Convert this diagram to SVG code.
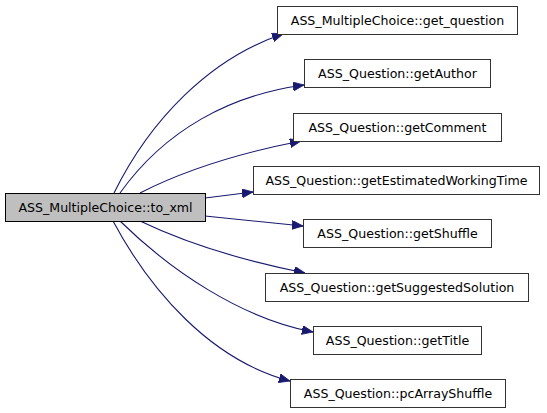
<svg xmlns="http://www.w3.org/2000/svg" width="547" height="413" viewBox="0 0 547 413">
<style>
.node rect{fill:#ffffff;stroke:#333333;stroke-width:1}
.node.main rect{fill:#bfbfbf;stroke:#000000}
.node text{font-family:"DejaVu Sans",sans-serif;font-size:12.6px;fill:#000000;text-anchor:middle}
.edges path{fill:none;stroke:#191970;stroke-width:1.1;marker-end:url(#arr)}
</style>
<defs>
<marker id="arr" markerUnits="userSpaceOnUse" markerWidth="12" markerHeight="10" refX="11" refY="4.5" orient="auto">
<path d="M0,0 L11,4.5 L0,9 Z" fill="#191970" stroke="#191970" stroke-width="0.8"/>
</marker>
</defs>
<rect width="547" height="413" fill="#ffffff"/>
<g class="edges">
<path d="M114,193 C150,120 210,58 283,34"/>
<path d="M120,193 C165,130 230,95 304,85"/>
<path d="M140,193 C185,170 245,152 301,141"/>
<path d="M205,198 L253,192"/>
<path d="M205,216 L303,226"/>
<path d="M140,221 C190,245 250,262 305,273"/>
<path d="M120,221 C170,270 240,318 313,332"/>
<path d="M113,221 C150,290 210,360 290,381"/>
</g>
<g id="node_main" class="node main"><rect x="5.5" y="193.5" width="200" height="28"/><text x="105.5" y="212">ASS_MultipleChoice::to_xml</text></g>
<g id="node_get_question" class="node"><rect x="277.5" y="6.5" width="240" height="28"/><text x="397.5" y="25">ASS_MultipleChoice::get_question</text></g>
<g id="node_getAuthor" class="node"><rect x="304.5" y="59.5" width="186" height="28"/><text x="397.5" y="78">ASS_Question::getAuthor</text></g>
<g id="node_getComment" class="node"><rect x="293.5" y="113.5" width="208" height="28"/><text x="397.5" y="132">ASS_Question::getComment</text></g>
<g id="node_getEstimatedWorkingTime" class="node"><rect x="253.5" y="166.5" width="286" height="28"/><text x="396.5" y="185">ASS_Question::getEstimatedWorkingTime</text></g>
<g id="node_getShuffle" class="node"><rect x="303.5" y="219.5" width="188" height="28"/><text x="397.5" y="238">ASS_Question::getShuffle</text></g>
<g id="node_getSuggestedSolution" class="node"><rect x="265.5" y="273.5" width="263" height="28"/><text x="397" y="292">ASS_Question::getSuggestedSolution</text></g>
<g id="node_getTitle" class="node"><rect x="313.5" y="326.5" width="168" height="28"/><text x="397.5" y="345">ASS_Question::getTitle</text></g>
<g id="node_pcArrayShuffle" class="node"><rect x="290.5" y="379.5" width="215" height="28"/><text x="398" y="398">ASS_Question::pcArrayShuffle</text></g>
</svg>
